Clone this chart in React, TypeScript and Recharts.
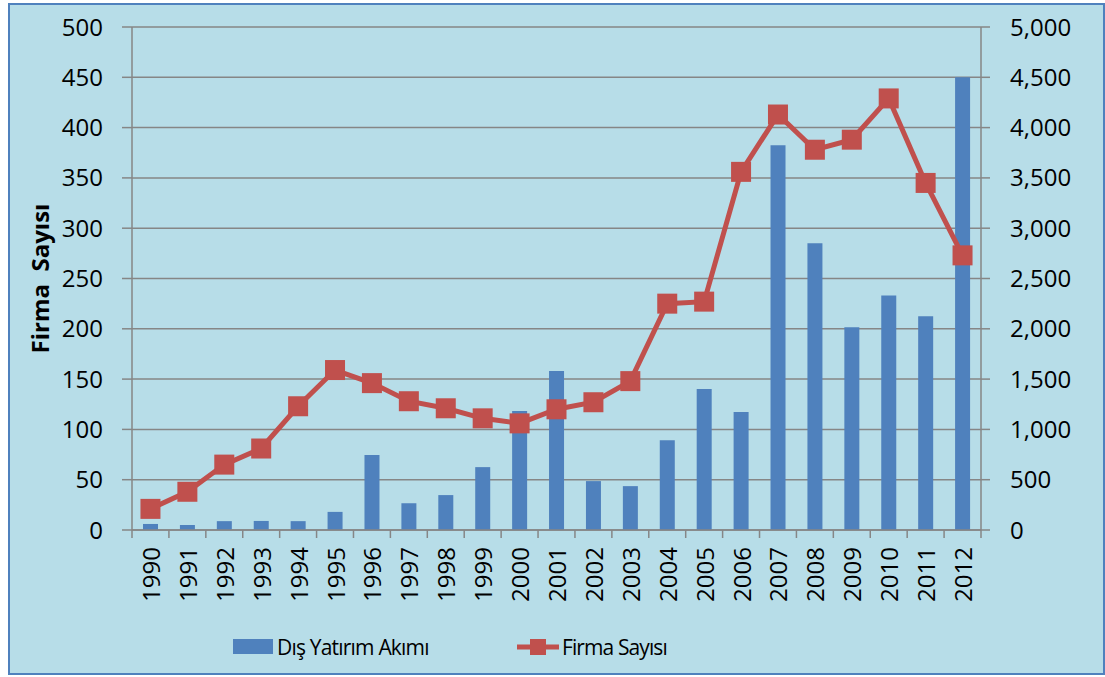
import { ComposedChart, Bar, Line, XAxis, YAxis, CartesianGrid, Legend } from "recharts";

const years = ["1990", "1991", "1992", "1993", "1994", "1995", "1996", "1997", "1998", "1999", "2000", "2001", "2002", "2003", "2004", "2005", "2006", "2007", "2008", "2009", "2010", "2011", "2012"];
// Dış Yatırım Akımı (right axis)
const disYatirim = [60, 50, 88, 90, 88, 180, 745, 266, 347, 625, 1182, 1580, 486, 436, 893, 1401, 1172, 3825, 2850, 2015, 2330, 2125, 4500];
// Firma Sayısı (left axis)
const firmaSayisi = [21, 38, 65, 81, 123, 159, 146, 128, 121, 111, 106, 120, 127, 148, 225, 227, 356, 413, 378, 388, 429, 345, 273];

const leftTicks = [0, 50, 100, 150, 200, 250, 300, 350, 400, 450, 500];
const rightTicks = [0, 500, 1000, 1500, 2000, 2500, 3000, 3500, 4000, 4500, 5000];

const data = years.map((year, i) => ({ year, dis: disYatirim[i], firma: firmaSayisi[i] }));

const W = 1105;
const H = 677;
const PLOT_LEFT = 132;
const PLOT_RIGHT = 981;
const BAND = (PLOT_RIGHT - PLOT_LEFT) / years.length;
const GRID = "#868686";
const BLUE = "#4f81bd";
const RED = "#c0504d";
const FONT = "'Open Sans', sans-serif";

const XTick = (props: any) => {
  const { x, y, payload, index } = props;
  const last = index === years.length - 1;
  return (
    <g>
      <line x1={x - BAND / 2} y1={y} x2={x - BAND / 2} y2={y + 8} stroke={GRID} strokeWidth={1.5} />
      {last && <line x1={x + BAND / 2} y1={y} x2={x + BAND / 2} y2={y + 8} stroke={GRID} strokeWidth={1.5} />}
      <text
        x={x}
        y={y + 17}
        transform={`rotate(-90, ${x}, ${y + 17})`}
        textAnchor="end"
        dominantBaseline="central"
        fontSize={24}
        fontFamily={FONT}
        fill="#000"
      >
        {payload.value}
      </text>
    </g>
  );
};

const SquareDot = (props: any) => {
  const { cx, cy } = props;
  if (cx == null || cy == null) return null;
  return <rect x={cx - 10} y={cy - 10} width={20} height={20} fill={RED} />;
};

const LegendContent = () => (
  <svg width={W} height={47} style={{ display: "block" }}>
    <rect x={233} y={9} width={40} height={15} fill={BLUE} />
    <text x={277} y={17} dominantBaseline="central" fontSize={21} letterSpacing={-0.8} fontFamily={FONT} fill="#000">
      Dış Yatırım Akımı
    </text>
    <line x1={517} y1={17} x2={559} y2={17} stroke={RED} strokeWidth={5} />
    <rect x={530} y={9} width={16} height={16} fill={RED} />
    <text x={562} y={17} dominantBaseline="central" fontSize={21} letterSpacing={-0.9} fontFamily={FONT} fill="#000">
      Firma Sayısı
    </text>
  </svg>
);

export default function App() {
  return (
    <div style={{ position: "absolute", left: 0, top: 0, width: W, height: H, background: "#fff" }}>
      <div
        style={{
          position: "absolute",
          left: 8,
          top: 3,
          width: 1093,
          height: 668,
          background: "#b7dde8",
          border: `2px solid ${BLUE}`,
        }}
      />
      <div style={{ position: "absolute", left: 0, top: 0 }}>
        <ComposedChart width={W} height={H} data={data} margin={{ top: 27, right: 24, left: 0, bottom: 0 }} barCategoryGap={0}>
          <CartesianGrid yAxisId="left" vertical={false} stroke={GRID} strokeWidth={1.5} />
          <XAxis
            dataKey="year"
            height={100}
            tickSize={0}
            tickMargin={0}
            tickLine={false}
            axisLine={{ stroke: GRID, strokeWidth: 1.5 }}
            tick={<XTick />}
            interval={0}
          />
          <YAxis
            yAxisId="left"
            width={PLOT_LEFT}
            domain={[0, 500]}
            ticks={leftTicks}
            tickSize={10}
            tickMargin={19}
            axisLine={{ stroke: GRID, strokeWidth: 1.5 }}
            tickLine={{ stroke: GRID, strokeWidth: 1.5 }}
            tick={{ fontSize: 24, fontFamily: FONT, fill: "#000" }}
            label={{
              value: "Firma\u00a0 Sayısı",
              angle: -90,
              position: "insideLeft",
              offset: 40,
              style: { textAnchor: "middle", fontSize: 24, fontWeight: 700, fontFamily: FONT, fill: "#000" },
            }}
          />
          <YAxis
            yAxisId="right"
            orientation="right"
            width={100}
            domain={[0, 5000]}
            ticks={rightTicks}
            tickSize={9}
            tickMargin={20}
            tickFormatter={(v: number) => v.toLocaleString("en-US")}
            axisLine={{ stroke: GRID, strokeWidth: 1.5 }}
            tickLine={{ stroke: GRID, strokeWidth: 1.5 }}
            tick={{ fontSize: 24, fontFamily: FONT, fill: "#000" }}
          />
          <Legend verticalAlign="bottom" height={47} content={<LegendContent />} wrapperStyle={{ left: 0, width: W }} />
          <Bar yAxisId="right" dataKey="dis" name="Dış Yatırım Akımı" fill={BLUE} barSize={15} isAnimationActive={false} />
          <Line
            yAxisId="left"
            dataKey="firma"
            name="Firma Sayısı"
            stroke={RED}
            strokeWidth={5}
            dot={<SquareDot />}
            activeDot={false}
            isAnimationActive={false}
          />
        </ComposedChart>
      </div>
    </div>
  );
}
